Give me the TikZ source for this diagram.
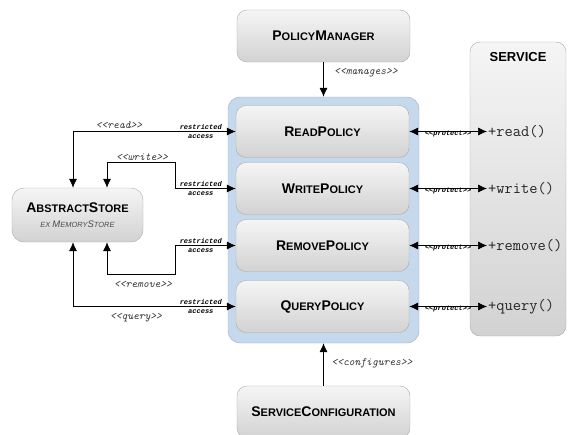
\documentclass[tikz,border=0pt]{standalone}
\usepackage{fontspec}
\setmainfont{Liberation Sans}
\setmonofont{Liberation Mono}
\newfontfamily\courfont{Latin Modern Mono}
\usetikzlibrary{arrows.meta,positioning,calc}
\definecolor{boxtop}{RGB}{245,245,245}
\definecolor{boxbot}{RGB}{210,210,210}
\definecolor{boxline}{RGB}{170,170,170}
\definecolor{grpfill}{RGB}{198,216,236}
\definecolor{grpline}{RGB}{148,172,204}
\newcommand{\scw}[2]{{\fontsize{14}{16}\selectfont #1}{\fontsize{11}{13}\selectfont\MakeUppercase{#2}}}
\newcommand{\scs}[2]{{\fontsize{9.5}{11}\selectfont #1}{\fontsize{7.5}{9}\selectfont\MakeUppercase{#2}}}
\newcommand{\stereo}[1]{<{}<#1>{}>}

\begin{document}
\begin{tikzpicture}[x=1pt,y=-1pt,
  box/.style={draw=boxline,rounded corners=10pt,top color=boxtop,bottom color=boxbot,minimum width=173pt,minimum height=52pt,font=\bfseries},
  lbl/.style={font=\fontsize{11}{12}\selectfont\courfont\itshape,text=black!80,inner sep=1pt},
  tiny/.style={font=\fontsize{7}{9.5}\selectfont\ttfamily\bfseries\itshape,align=center,inner sep=0pt},
  meth/.style={font=\fontsize{16}{18}\selectfont\courfont,text=black!85,anchor=west,inner sep=1pt},
  conn/.style={line width=0.7pt,-{Latex[length=9pt,width=8pt]}},
  pair/.style={line width=0.7pt,{Latex[length=9pt,width=8pt]}-{Latex[length=9pt,width=8pt]}}]
  \useasboundingbox (0,0) rectangle (572,434);

  % policies container
  \node[draw=grpline,fill=grpfill,rounded corners=12pt,minimum width=191pt,minimum height=246pt] (grp) at (323.5,220) {};

  \node[box] (pm) at (323.5,36) {\scw{P}{olicy}\scw{M}{anager}};
  \node[box] (rp) at (322.5,131.5) {\scw{R}{ead}\scw{P}{olicy}};
  \node[box] (wp) at (322.5,188.5) {\scw{W}{rite}\scw{P}{olicy}};
  \node[box] (mp) at (322.5,245.5) {\scw{R}{emove}\scw{P}{olicy}};
  \node[box] (qp) at (322.5,306.5) {\scw{Q}{uery}\scw{P}{olicy}};
  \node[box] (sc) at (323.5,412) {\scw{S}{ervice}\scw{C}{onfiguration}};

  \node[box,minimum width=131pt,minimum height=54pt,rounded corners=12pt,align=center] (store) at (77.5,215)
    {\scw{A}{bstract}\scw{S}{tore}\\[3pt]{\color{black!70}\mdseries\itshape\scs{}{ex }\scs{M}{emory}\scs{S}{tore}}};

  \node[box,minimum width=96pt,minimum height=294pt,
    label={[anchor=north,yshift=-7pt,font=\bfseries\fontsize{13}{15}\selectfont]north:SERVICE}] (svc) at (518,189) {};

  \node[meth] (mread) at (487,131.5) {+read()};
  \node[meth] (mwrite) at (487,188.5) {+write()};
  \node[meth] (mremove) at (487,245.5) {+remove()};
  \node[meth] (mquery) at (487,306.5) {+query()};

  % manager and configuration
  \draw[conn] (pm.south) -- (grp.north);
  \draw[conn] (sc.north) -- (grp.south);
  \node[lbl] at (366,73) {\stereo{manages}};
  \node[lbl] at (372,363) {\stereo{configures}};

  % protect
  \draw[pair] (rp.east) -- node[tiny,anchor=north,yshift=1.5pt] {\stereo{protect}} (mread.west);
  \draw[pair] (wp.east) -- node[tiny,anchor=north,yshift=1.5pt] {\stereo{protect}} (mwrite.west);
  \draw[pair] (mp.east) -- node[tiny,anchor=north,yshift=1.5pt] {\stereo{protect}} (mremove.west);
  \draw[pair] (qp.east) -- node[tiny,anchor=north,yshift=1.5pt] {\stereo{protect}} (mquery.west);

  % store access
  \draw[pair] ([xshift=-4.5]store.north) |- (rp.west);
  \draw[pair] ([xshift=29.5]store.north) |- ($(wp.west)+(-60,-26)$) |- (wp.west);
  \draw[pair] ([xshift=29.5]store.south) |- ($(mp.west)+(-60,29)$) |- (mp.west);
  \draw[pair] ([xshift=-4.5]store.south) |- (qp.west);
  \node[lbl] at (119,125) {\stereo{read}};
  \node[lbl] at (142,157) {\stereo{write}};
  \node[lbl] at (143,284) {\stereo{remove}};
  \node[lbl] at (136,318) {\stereo{query}};
  \foreach \p in {rp,wp,mp,qp}
    \node[tiny] at ($(\p.west)+(-35,0)$) {restricted\\access};
\end{tikzpicture}
\end{document}
